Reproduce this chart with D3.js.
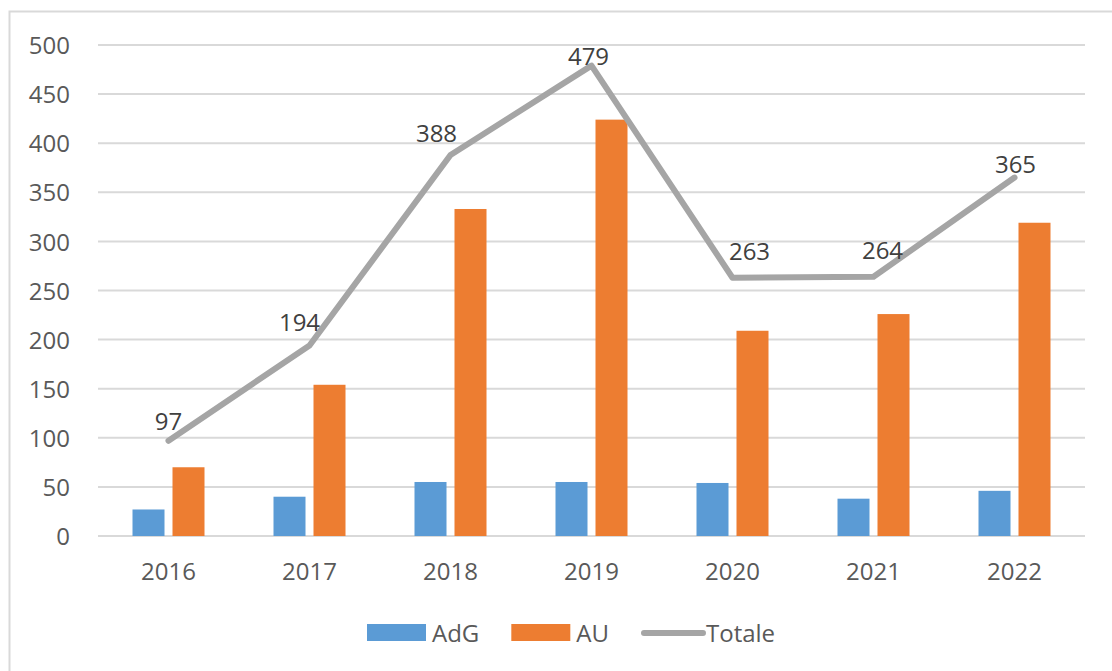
<!DOCTYPE html>
<html>
<head>
<meta charset="utf-8">
<script src="https://cdn.jsdelivr.net/npm/d3@7"></script>
<style>
  body { margin: 0; background: #fff; }
  text { font-family: "Open Sans", "Noto Sans", sans-serif; }
</style>
</head>
<body>
<div id="chart"></div>
<script>
// Dati
const years = ["2016", "2017", "2018", "2019", "2020", "2021", "2022"];
const adg = [27, 40, 55, 55, 54, 38, 46];
const au = [70, 154, 333, 424, 209, 226, 319];
const totale = [97, 194, 388, 479, 263, 264, 365];
const yTicks = [0, 50, 100, 150, 200, 250, 300, 350, 400, 450, 500];

// spostamento etichette (come nel grafico originale)
const labelDx = [0, -10, -14, -3, 17, 9, 1];
const labelDy = [-11, -14, -13, -1, -18, -18, -5];

const width = 1112;
const height = 671;
const margin = { top: 45, right: 27, bottom: 135, left: 98 };

const colors = { AdG: "#5b9bd5", AU: "#ed7d31", Totale: "#a5a5a5" };

const svg = d3.select("#chart")
    .append("svg")
    .attr("width", width)
    .attr("height", height);

// bordo del grafico
svg.append("rect")
    .attr("x", 9.5)
    .attr("y", 11.5)
    .attr("width", 1300)
    .attr("height", 900)
    .attr("fill", "none")
    .attr("stroke", "#d9d9d9")
    .attr("stroke-width", 2);

const x = d3.scaleBand()
    .domain(years)
    .range([margin.left, width - margin.right])
    .padding(0);

const x1 = d3.scaleBand()
    .domain(["AdG", "AU"])
    .range([-36, 36])
    .paddingInner(0.2);

const y = d3.scaleLinear()
    .domain([0, 500])
    .range([height - margin.bottom, margin.top]);

// griglia
svg.append("g")
    .selectAll("line")
    .data(yTicks)
    .enter()
    .append("line")
    .attr("x1", margin.left)
    .attr("x2", width - margin.right)
    .attr("y1", d => y(d))
    .attr("y2", d => y(d))
    .attr("stroke", "#d9d9d9")
    .attr("stroke-width", 2);

// asse Y
const yAxis = svg.append("g")
    .attr("transform", `translate(${margin.left - 28},0)`)
    .call(d3.axisLeft(y).tickValues(yTicks).tickSize(0).tickPadding(0));
yAxis.select(".domain").remove();
yAxis.selectAll("text")
    .attr("font-size", "24px")
    .attr("fill", "#595959")
    .attr("dy", "0.36em")
    .style("font-family", "'Open Sans', sans-serif");

// asse X
const xAxis = svg.append("g")
    .attr("transform", `translate(0,${height - margin.bottom})`)
    .call(d3.axisBottom(x).tickSize(0).tickPadding(27));
xAxis.select(".domain").remove();
xAxis.selectAll("text")
    .attr("font-size", "24px")
    .attr("fill", "#595959")
    .style("font-family", "'Open Sans', sans-serif");

// barre
const rows = years.map((yr, i) => ({ year: yr, AdG: adg[i], AU: au[i], Totale: totale[i] }));

const groups = svg.append("g")
    .selectAll("g")
    .data(rows)
    .enter()
    .append("g")
    .attr("transform", d => `translate(${x(d.year) + x.bandwidth() / 2},0)`);

groups.selectAll("rect")
    .data(d => ["AdG", "AU"].map(k => ({ key: k, value: d[k] })))
    .enter()
    .append("rect")
    .attr("x", d => x1(d.key))
    .attr("y", d => y(d.value))
    .attr("width", x1.bandwidth())
    .attr("height", d => y(0) - y(d.value))
    .attr("fill", d => colors[d.key]);

// linea Totale
const line = d3.line()
    .x(d => x(d.year) + x.bandwidth() / 2)
    .y(d => y(d.Totale));

svg.append("path")
    .datum(rows)
    .attr("d", line)
    .attr("fill", "none")
    .attr("stroke", colors.Totale)
    .attr("stroke-width", 6)
    .attr("stroke-linejoin", "round")
    .attr("stroke-linecap", "round");

// etichette
svg.append("g")
    .selectAll("text")
    .data(rows)
    .enter()
    .append("text")
    .attr("x", (d, i) => x(d.year) + x.bandwidth() / 2 + labelDx[i])
    .attr("y", (d, i) => y(d.Totale) + labelDy[i])
    .attr("text-anchor", "middle")
    .attr("font-size", "24px")
    .attr("fill", "#404040")
    .text(d => d.Totale);

// legenda
const legendItems = [
    { key: "AdG", type: "rect" },
    { key: "AU", type: "rect" },
    { key: "Totale", type: "line" }
];
const legend = svg.append("g").attr("transform", "translate(367,633)");
let lx = 0;
legendItems.forEach(item => {
    if (item.type === "rect") {
        legend.append("rect")
            .attr("x", lx)
            .attr("y", -9)
            .attr("width", 59)
            .attr("height", 17)
            .attr("fill", colors[item.key]);
    } else {
        legend.append("line")
            .attr("x1", lx + 3)
            .attr("x2", lx + 62)
            .attr("y1", 0)
            .attr("y2", 0)
            .attr("stroke", colors[item.key])
            .attr("stroke-width", 6)
            .attr("stroke-linecap", "round");
    }
    const t = legend.append("text")
        .attr("x", lx + 65)
        .attr("y", 0)
        .attr("dy", "0.36em")
        .attr("font-size", "24px")
        .attr("fill", "#595959")
        .text(item.key);
    lx += 65 + t.node().getComputedTextLength() + 32;
});
</script>
</body>
</html>
